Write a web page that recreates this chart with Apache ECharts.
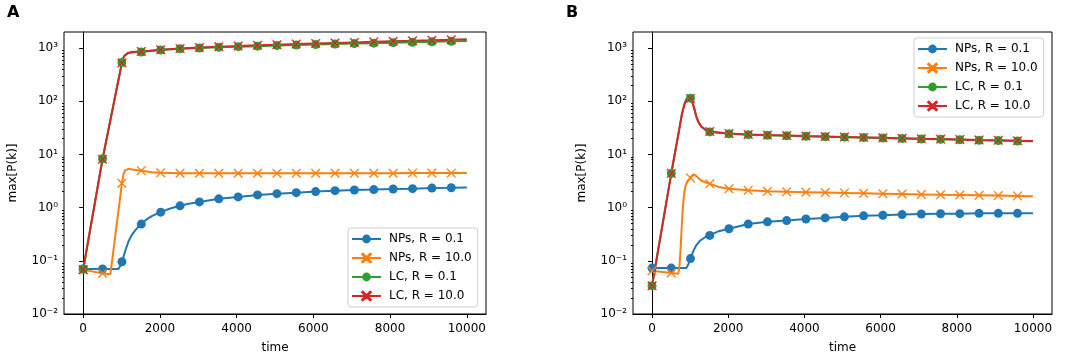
<!DOCTYPE html>
<html><head><meta charset="utf-8">
<script src="https://cdn.jsdelivr.net/npm/echarts@6/dist/echarts.min.js"></script>
<style>html,body{margin:0;padding:0;background:#fff}#c{width:1084px;height:360px}</style>
</head><body><div id="c"></div>
<script>
// ---------- data ----------
const markerTimes = [0,505,1010,1515,2020,2525,3030,3535,4040,4545,5050,5555,6060,6565,7070,7575,8080,8585,9090,9595];
const seriesNames = ['NPs, R = 0.1','NPs, R = 10.0','LC, R = 0.1','LC, R = 10.0'];
const xTickValues = [0,2000,4000,6000,8000,10000];
const yTickValues = [0.01,0.1,1,10,100,1000];
const yTickLabels = ['10\u207B\u00B2','10\u207B\u00B9','10\u2070','10\u00B9','10\u00B2','10\u00B3'];
const panelLabels = ['A','B'];

// Panel A : values at marker times, plus extra line-only points [time, value]
const aNPsR01 = [0.070,0.070,0.096,0.49,0.82,1.08,1.28,1.46,1.59,1.73,1.83,1.91,2.00,2.08,2.14,2.18,2.24,2.27,2.33,2.36];
const aNPsR01Line = [[917,0.070],[960,0.078],[1060,0.125],[1110,0.165],[1180,0.23],[1260,0.30],[1350,0.37],[1430,0.43],[1650,0.60],[1800,0.70],[2250,0.95],[2750,1.18],[10000,2.40]];
const aNPsR10 = [0.068,0.058,2.86,4.95,4.50,4.44,4.42,4.42,4.42,4.42,4.42,4.42,4.43,4.43,4.43,4.44,4.44,4.45,4.45,4.45];
const aNPsR10Line = [[710,0.056],[1050,4.2],[1090,5.0],[1130,5.3],[1180,5.35],[1280,5.2],[1800,4.6],[10000,4.45]];
const aLCR01 = [0.070,8.3,533,841,918,965,1000,1030,1060,1085,1110,1135,1160,1185,1210,1235,1260,1285,1310,1340];
const aLCR01Line = [[1040,640],[1080,715],[1120,765],[1170,800],[1250,825],[1350,835],[10000,1360]];
const aLCR10 = [0.068,8.1,525,860,930,980,1025,1060,1095,1125,1155,1185,1215,1245,1275,1305,1335,1365,1395,1430];
const aLCR10Line = [[1040,640],[1080,720],[1120,775],[1170,810],[1250,838],[1350,850],[10000,1460]];

// Panel B
const bNPsR01 = [0.073,0.073,0.11,0.30,0.40,0.49,0.54,0.57,0.61,0.64,0.67,0.70,0.72,0.74,0.76,0.765,0.77,0.78,0.78,0.78];
const bNPsR01Line = [[900,0.073],[950,0.085],[1080,0.15],[1150,0.19],[1250,0.235],[1380,0.275],[1750,0.36],[10000,0.78]];
const bNPsR10 = [0.065,0.059,3.6,2.8,2.27,2.11,2.02,1.98,1.95,1.92,1.89,1.86,1.83,1.80,1.77,1.74,1.72,1.70,1.68,1.66];
const bNPsR10Line = [[690,0.057],[720,0.08],[750,0.17],[780,0.45],[810,1.0],[840,1.8],[880,2.6],[940,3.2],[1060,4.1],[1100,4.2],[1140,4.05],[1200,3.7],[1300,3.2],[1400,3.0],[1750,2.45],[10000,1.64]];
const bLCR01 = [0.034,4.4,114,26.5,24.4,23.5,22.9,22.4,21.9,21.5,21.1,20.7,20.3,19.9,19.5,19.2,18.9,18.5,18.2,17.9];
const bLCR01Line = [[600,10.5],[700,26],[780,55],[850,88],[910,112],[960,122],[1060,95],[1110,72],[1160,52],[1220,40],[1300,33],[1400,29],[10000,17.7]];
const bLCR10 = [0.034,4.4,113,27,24.6,23.7,23.1,22.6,22.1,21.7,21.3,20.9,20.5,20.1,19.7,19.4,19.1,18.7,18.4,18.1];
const bLCR10Line = [[600,10.5],[700,26],[780,55],[850,88],[910,112],[960,121],[1060,95],[1110,72],[1160,52],[1220,40],[1300,33],[1400,29],[10000,17.9]];

// ---------- styles ----------
const colors = ['#1f77b4','#ff7f0e','#2ca02c','#d62728'];
const FONT = 'DejaVu Sans';
const XPATH = 'path://M0,0.8L0.8,0L5,4.2L9.2,0L10,0.8L5.8,5L10,9.2L9.2,10L5,5.8L0.8,10L0,9.2L4.2,5Z';
const symbols = ['circle', XPATH, 'circle', XPATH];
const symbolSizes = [9, 9, 9, 9];

function buildData(markers, lineOnly) {
  const pts = markerTimes.map((t, i) => ({ value: [t, markers[i]] }));
  lineOnly.forEach(p => pts.push({ value: p, symbol: 'none' }));
  pts.sort((a, b) => a.value[0] - b.value[0]);
  return pts;
}

const minorTicks = [];
for (let e = -2; e <= 3; e++) for (let k = 2; k <= 9; k++) {
  const v = k * Math.pow(10, e);
  if (v < 2000) minorTicks.push(v);
}

const panels = [
  [[aNPsR01, aNPsR01Line], [aNPsR10, aNPsR10Line], [aLCR01, aLCR01Line], [aLCR10, aLCR10Line]],
  [[bNPsR01, bNPsR01Line], [bNPsR10, bNPsR10Line], [bLCR01, bLCR01Line], [bLCR10, bLCR10Line]]
];

const gridPos = [{ left: 64, width: 422 }, { left: 633, width: 419 }];
const legendPos = [{ left: 348, top: 228 }, { left: 914, top: 38 }];
const titlePos = [{ left: 7 }, { left: 566 }];

const grid = [], xAxis = [], yAxis = [], series = [], legend = [], title = [];
panels.forEach((panel, p) => {
  grid.push({ left: gridPos[p].left, top: 32, width: gridPos[p].width, height: 282,
    show: true, borderColor: '#000', borderWidth: 1, backgroundColor: 'transparent', containLabel: false });
  xAxis.push({ gridIndex: p, type: 'value', min: -500, max: 10500,
    name: 'time', nameLocation: 'middle', nameGap: 28,
    nameTextStyle: { fontSize: 12, color: '#000', fontFamily: FONT },
    axisLine: { show: true, lineStyle: { color: '#000', width: 1 } },
    axisTick: { show: true, length: 4, lineStyle: { color: '#000' }, customValues: xTickValues },
    axisLabel: { customValues: xTickValues, fontSize: 12, color: '#000', fontFamily: FONT, margin: 9,
      formatter: v => String(v) },
    splitLine: { show: false } });
  yAxis.push({ gridIndex: p, type: 'log', logBase: 10, min: 0.01, max: 2000,
    name: 'max[P(k)]', nameLocation: 'middle', nameGap: 45,
    nameTextStyle: { fontSize: 12, color: '#000', fontFamily: FONT },
    axisLine: { show: true, lineStyle: { color: '#000', width: 1 } },
    axisTick: { show: true, length: 4, lineStyle: { color: '#000' }, customValues: yTickValues },
    axisLabel: { customValues: yTickValues, fontSize: 12, color: '#000', fontFamily: FONT, margin: 6,
      formatter: v => { const i = yTickValues.findIndex(t => Math.abs(t - v) / t < 1e-6); return i >= 0 ? yTickLabels[i] : ''; } },
    splitLine: { show: false } });
  yAxis.push({ gridIndex: p, type: 'log', logBase: 10, min: 0.01, max: 2000, position: 'left', offset: 0,
    axisLine: { show: false },
    axisTick: { show: true, length: 2, lineStyle: { color: '#000' }, customValues: minorTicks },
    axisLabel: { show: false }, splitLine: { show: false } });
  panel.forEach((s, i) => {
    const isX = symbols[i] !== 'circle';
    series.push({ type: 'line', name: seriesNames[i], xAxisIndex: p, yAxisIndex: p * 2,
      data: buildData(s[0], s[1]), smooth: false,
      symbol: symbols[i], symbolSize: symbolSizes[i], showSymbol: true,
      lineStyle: { width: 2, color: colors[i] },
      itemStyle: { color: colors[i], borderColor: colors[i], borderWidth: isX ? 0.5 : 0 },
      emphasis: { disabled: true }, animation: false, clip: false });
  });
  legend.push({ left: legendPos[p].left, top: legendPos[p].top, orient: 'vertical', data: seriesNames,
    itemWidth: 29, itemHeight: 11, itemGap: 7, padding: [5, 6, 5, 3],
    backgroundColor: 'rgba(255,255,255,0.8)', borderColor: '#d0d0d0', borderWidth: 1, borderRadius: 3,
    textStyle: { fontSize: 12, color: '#000', fontFamily: FONT, padding: [0, 0, 0, 3] }, selectedMode: false });
  title.push({ text: panelLabels[p], left: titlePos[p].left, top: 5, padding: 0,
    textStyle: { fontSize: 16, fontWeight: 'bold', color: '#000', fontFamily: FONT } });
});

const chart = echarts.init(document.getElementById('c'), null, { renderer: 'canvas' });
chart.setOption({ animation: false, backgroundColor: '#fff', title, grid, xAxis, yAxis, series, legend });
</script></body></html>
